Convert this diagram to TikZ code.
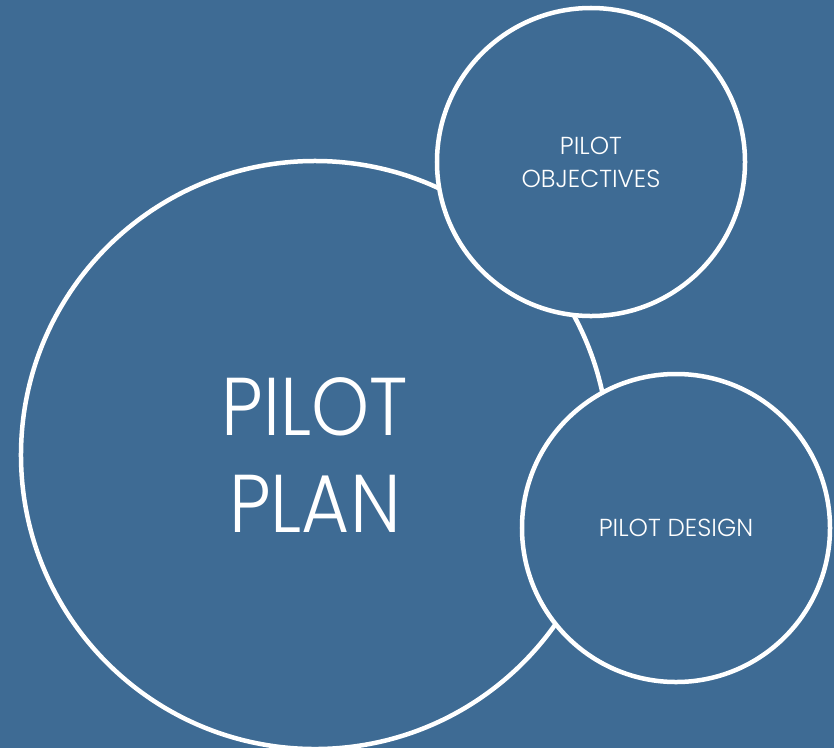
\documentclass[tikz,border=0pt]{standalone}
\usepackage{fontspec}
\newfontfamily\pilotfont{Poppins Light}
\newfontfamily\planfont[FakeStretch=0.9]{Poppins Light}
\definecolor{pilotblue}{HTML}{3E6B94}

\begin{document}
\begin{tikzpicture}[x=0.03cm,y=-0.03cm,
    bubble/.style={circle,draw=white,fill=pilotblue,line width=1.35mm,inner sep=0pt,text=white,align=center,font=\pilotfont},
    big bubble/.style={bubble,minimum size=17.64cm,font=\planfont\fontsize{70}{82}\selectfont},
    small bubble/.style={bubble,minimum size=9.24cm,font=\pilotfont\fontsize{21}{28}\selectfont}]

    \fill[pilotblue] (0,0) rectangle (834,748);
    \useasboundingbox (0,0) rectangle (834,748);

    \node[big bubble] (plan) at (315,455) {PILOT\\PLAN};
    \node[small bubble] (objectives) at (591,162) {PILOT\\OBJECTIVES};
    \node[small bubble] (design) at (676,528) {PILOT DESIGN};

\end{tikzpicture}
\end{document}
